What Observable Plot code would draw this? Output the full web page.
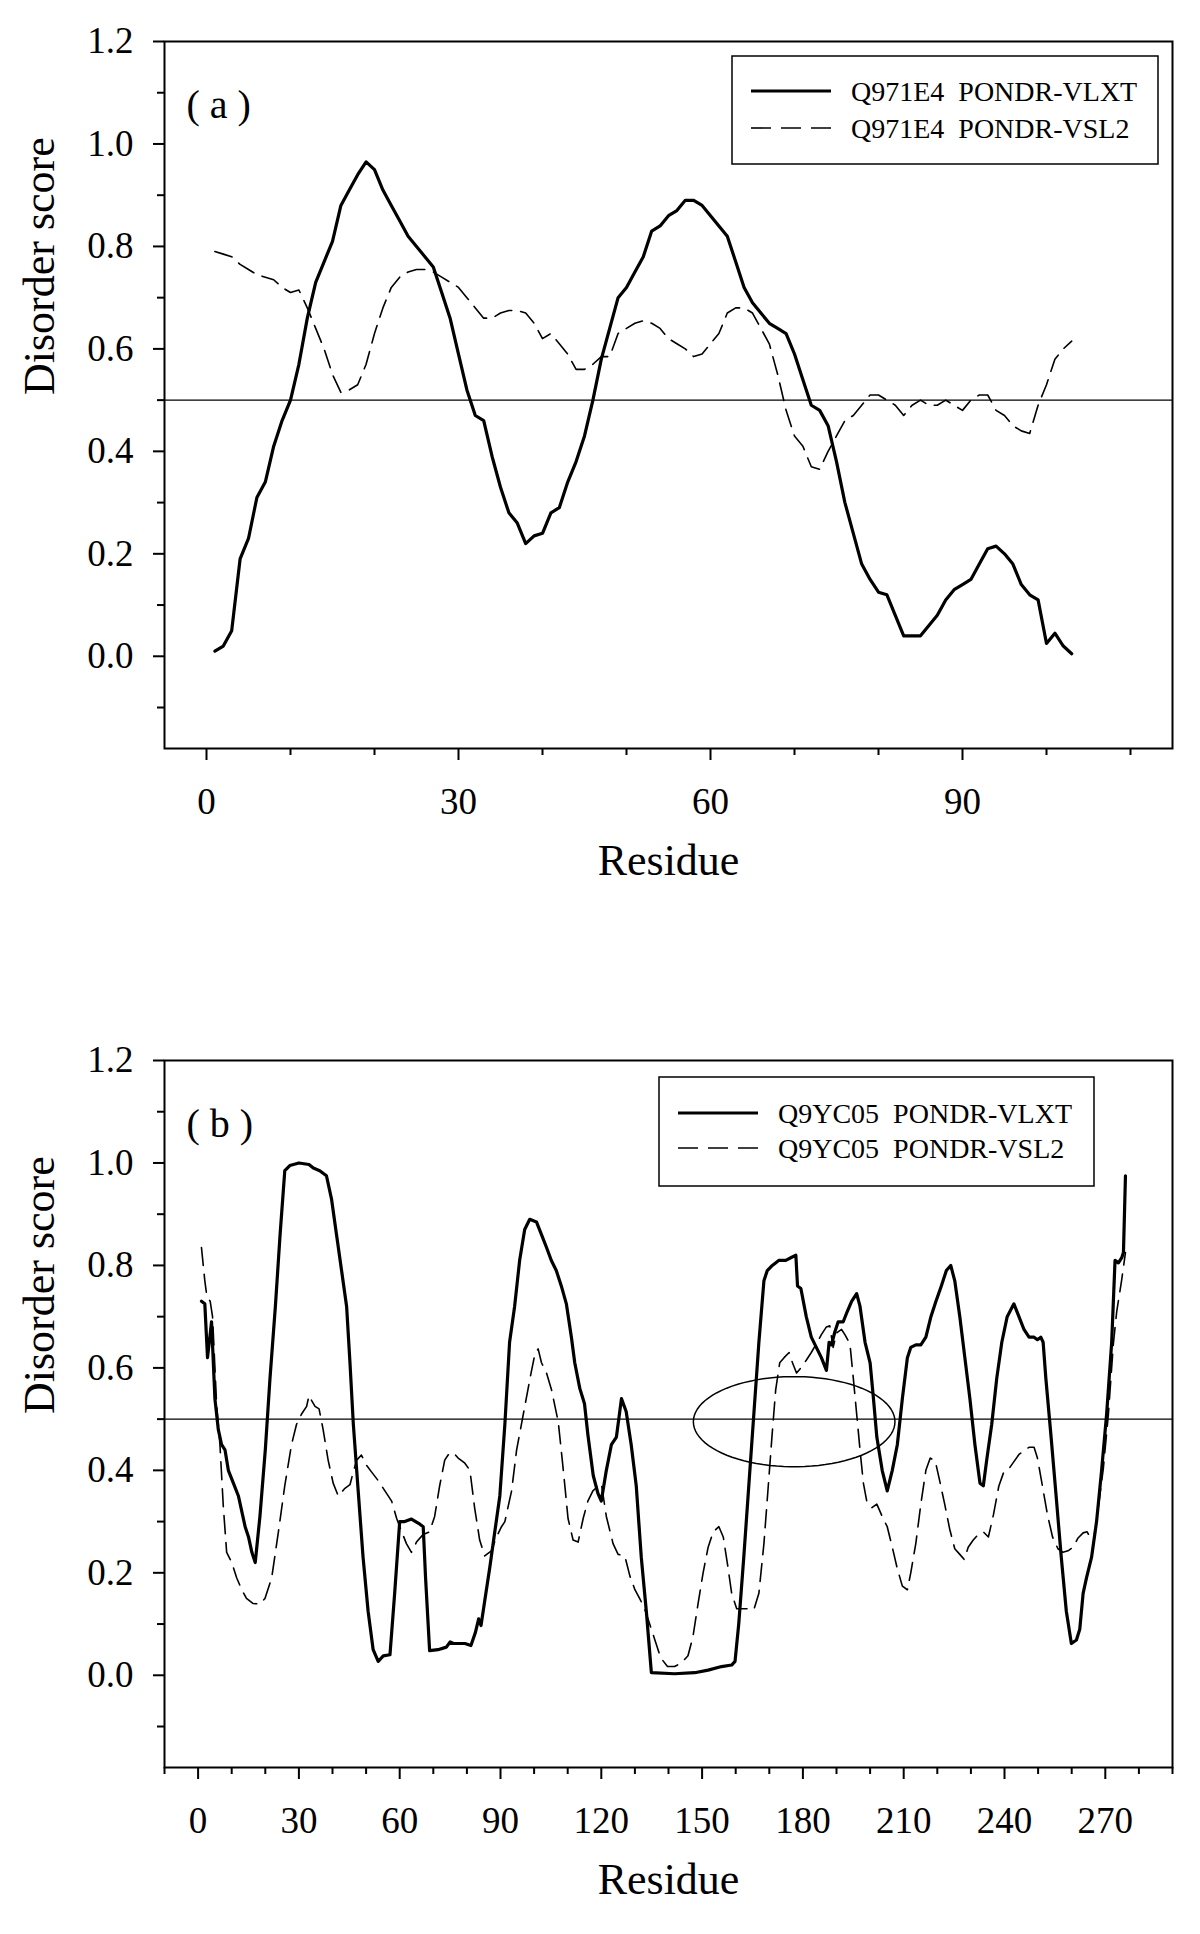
<!DOCTYPE html>
<html>
<head>
<meta charset="utf-8">
<script src="https://cdn.jsdelivr.net/npm/d3@7"></script>
<script src="https://cdn.jsdelivr.net/npm/@observablehq/plot@0.6"></script>
<style>
html, body { margin: 0; padding: 0; background: #fff; }
#chart svg { display: block; }
</style>
</head>
<body>
<div id="chart"></div>
<script>
const FONT = '"Liberation Serif", "Times New Roman", Times, serif';

// ---------- Panel (a): Q971E4 ----------
const aResidue = d3.range(1, 104);
const aVLXT = [0.01,0.02,0.05,0.19,0.23,0.31,0.34,0.41,0.46,0.50,
  0.57,0.66,0.73,0.77,0.81,0.88,0.91,0.94,0.965,0.95,
  0.91,0.88,0.85,0.82,0.80,0.78,0.76,0.71,0.66,0.59,
  0.52,0.47,0.46,0.39,0.33,0.28,0.26,0.22,0.235,0.24,
  0.28,0.29,0.34,0.38,0.43,0.50,0.58,0.64,0.70,0.72,
  0.75,0.78,0.83,0.84,0.86,0.87,0.89,0.89,0.88,0.86,
  0.84,0.82,0.77,0.72,0.69,0.67,0.65,0.64,0.63,0.59,
  0.54,0.49,0.48,0.45,0.38,0.30,0.24,0.18,0.15,0.125,
  0.12,0.08,0.04,0.04,0.04,0.06,0.08,0.11,0.13,0.14,
  0.15,0.18,0.21,0.215,0.20,0.18,0.14,0.12,0.11,0.025,
  0.045,0.02,0.005];
const aVSL2 = [0.79,0.785,0.78,0.765,0.755,0.745,0.74,0.735,0.72,0.71,
  0.715,0.68,0.64,0.60,0.55,0.515,0.52,0.53,0.57,0.63,
  0.68,0.72,0.74,0.75,0.755,0.755,0.75,0.74,0.73,0.72,
  0.70,0.68,0.66,0.66,0.67,0.675,0.675,0.67,0.65,0.62,
  0.63,0.61,0.59,0.56,0.56,0.57,0.585,0.585,0.63,0.64,
  0.65,0.655,0.65,0.64,0.62,0.61,0.60,0.585,0.59,0.61,
  0.63,0.67,0.68,0.68,0.67,0.64,0.61,0.55,0.48,0.43,
  0.41,0.37,0.365,0.40,0.43,0.46,0.47,0.49,0.51,0.51,
  0.50,0.49,0.47,0.49,0.50,0.49,0.49,0.50,0.49,0.48,
  0.50,0.51,0.51,0.48,0.47,0.45,0.44,0.435,0.49,0.53,
  0.58,0.60,0.615];

// ---------- Panel (b): Q9YC05 ----------
const bVLXT = [[1,0.73],[2,0.725],[2.8,0.62],[3.5,0.66],[4,0.69],[5,0.54],[6,0.48],[7,0.45],[8,0.44],[9,0.40],
  [10.5,0.375],[12,0.35],[13,0.32],[14,0.29],[15,0.27],[16,0.24],[17,0.22],[18.4,0.31],[20,0.44],[21.4,0.58],
  [23,0.72],[24.4,0.86],[25.8,0.985],[27.3,0.995],[30,1.0],[33,0.997],[34.3,0.99],[36.2,0.985],[38.2,0.975],[39.7,0.93],
  [41.2,0.86],[42.7,0.79],[44.2,0.72],[45.2,0.61],[46.2,0.49],[47.7,0.355],[49.1,0.23],[50.6,0.125],[52.1,0.05],[53.6,0.027],
  [55.1,0.038],[57.1,0.04],[58.5,0.16],[60,0.30],[61.5,0.30],[63.5,0.305],[66,0.295],[67,0.29],[67.7,0.19],[68.9,0.048],
  [71.4,0.05],[73.9,0.055],[75,0.065],[76,0.062],[79.4,0.062],[81.2,0.058],[82.5,0.083],[83.5,0.11],[84.2,0.097],[85.3,0.145],
  [86.8,0.21],[88.3,0.28],[89.8,0.35],[91.3,0.49],[92.7,0.65],[94.2,0.72],[95.7,0.81],[97.2,0.87],[98.7,0.89],[100.7,0.885],
  [102.2,0.86],[103.7,0.835],[105.1,0.81],[106.6,0.79],[108.1,0.76],[109.6,0.725],[111.1,0.66],[112.1,0.61],[113.6,0.56],[115,0.53],
  [116,0.47],[117.6,0.39],[119,0.355],[120,0.34],[121.5,0.40],[123,0.45],[124.5,0.465],[126,0.54],[127.4,0.515],[128.9,0.45],
  [130.4,0.37],[131.9,0.23],[133.4,0.125],[134.9,0.005],[141.8,0.003],[147.8,0.005],[151.8,0.01],[155.8,0.017],[158.8,0.02],[159.8,0.027],
  [160.9,0.10],[162.4,0.23],[163.9,0.37],[165.4,0.51],[166.9,0.65],[168.4,0.77],[169.4,0.79],[170.9,0.80],[172.9,0.81],[174.9,0.81],
  [176.4,0.815],[177.9,0.82],[178.4,0.76],[179.4,0.755],[181,0.70],[182.5,0.66],[184,0.64],[185.5,0.62],[187,0.595],[187.8,0.65],
  [188.5,0.645],[189.5,0.67],[190.5,0.69],[192,0.69],[193.2,0.71],[194.5,0.73],[196,0.745],[197,0.72],[198.5,0.65],[200,0.61],
  [201,0.54],[202,0.465],[203.6,0.40],[205.1,0.36],[206.6,0.40],[208.1,0.45],[209.6,0.54],[211.1,0.62],[212.1,0.64],[213.6,0.645],
  [215.1,0.645],[216.6,0.66],[218.1,0.70],[219.6,0.73],[221.2,0.76],[222.7,0.79],[224,0.80],[225.2,0.77],[226.7,0.70],[228.2,0.62],
  [229.7,0.54],[231.2,0.45],[232.7,0.375],[233.7,0.37],[234.7,0.42],[236.2,0.49],[237.7,0.58],[239.2,0.65],[240.8,0.70],[242.8,0.725],
  [244.3,0.70],[245.8,0.675],[247.3,0.66],[248.8,0.66],[249.8,0.655],[250.8,0.66],[251.5,0.65],[252.3,0.58],[253.8,0.47],[255.3,0.355],
  [256.9,0.23],[258.4,0.125],[259.9,0.062],[261.4,0.069],[262.4,0.09],[263.4,0.16],[264.4,0.19],[265.9,0.23],[267.4,0.30],[268.9,0.40],
  [270.4,0.51],[271.9,0.65],[272.9,0.81],[273.9,0.805],[274.9,0.815],[275.4,0.825],[276,0.975]];
const bVSL2 = [[1,0.835],[2,0.77],[2.6,0.74],[3.6,0.73],[4.3,0.70],[5.5,0.53],[6.5,0.45],[7.5,0.33],[8.5,0.24],[10,0.22],
  [11.5,0.19],[13,0.167],[14.4,0.15],[16.4,0.14],[18.4,0.139],[19.9,0.15],[21.9,0.19],[23.9,0.28],[25.8,0.37],[27.8,0.45],
  [29.3,0.49],[30.8,0.51],[32.3,0.525],[33,0.546],[33.8,0.536],[34.8,0.525],[36,0.52],[37.2,0.48],[38.7,0.42],[40.2,0.375],
  [41.7,0.35],[43.7,0.365],[45.2,0.372],[46.2,0.397],[47.2,0.42],[48.6,0.43],[50.1,0.41],[51.6,0.397],[53.6,0.38],[55.6,0.36],
  [57.6,0.34],[59.1,0.306],[60.6,0.28],[62,0.257],[63.5,0.24],[65,0.26],[67,0.275],[68.9,0.28],[70.4,0.31],[71.9,0.37],
  [73.4,0.42],[74.4,0.43],[75.9,0.435],[77.4,0.424],[79.4,0.414],[80.9,0.40],[82.3,0.327],[83.8,0.264],[85.3,0.233],[87.3,0.243],
  [88.8,0.27],[90.3,0.29],[91.3,0.30],[93.3,0.36],[94.8,0.44],[96.8,0.51],[98.8,0.58],[100.2,0.626],[101.2,0.637],[102.2,0.61],
  [103.7,0.59],[105.2,0.557],[107.2,0.494],[108.7,0.40],[110.1,0.306],[111.6,0.264],[113.1,0.26],[114.6,0.306],[116,0.34],[117.5,0.36],
  [119,0.369],[120,0.375],[121.5,0.31],[123.5,0.257],[125,0.236],[127,0.233],[128.5,0.194],[130,0.167],[131.4,0.15],[132.9,0.13],
  [134.4,0.10],[135.9,0.07],[137.7,0.034],[139.7,0.017],[141.8,0.017],[143.8,0.024],[145.8,0.038],[147.3,0.076],[148.8,0.14],[150.3,0.20],
  [151.8,0.25],[153.3,0.28],[155,0.29],[156.3,0.27],[157.6,0.215],[158.8,0.16],[160.3,0.13],[161.9,0.13],[163.9,0.13],[165.4,0.128],
  [166.9,0.16],[168.4,0.257],[169.7,0.37],[170.9,0.475],[171.9,0.557],[173.1,0.61],[174.4,0.62],[175.9,0.63],[176.9,0.61],[178.1,0.59],
  [179.4,0.60],[181,0.615],[182.5,0.63],[184,0.647],[185.5,0.665],[187,0.68],[188,0.682],[189,0.64],[190,0.668],[191.5,0.675],
  [192.5,0.665],[194,0.647],[195,0.58],[196,0.51],[197,0.44],[198,0.375],[199,0.34],[200.5,0.327],[202,0.334],[203.6,0.31],
  [205.1,0.29],[206.6,0.25],[208.1,0.208],[209.6,0.174],[211.1,0.167],[212.1,0.20],[213.6,0.257],[215.1,0.334],[216.6,0.40],[217.9,0.424],
  [219.4,0.418],[220.7,0.38],[222.2,0.334],[223.7,0.285],[225.2,0.247],[226.7,0.236],[228,0.226],[229.2,0.25],[230.7,0.264],[232.2,0.275],
  [233.7,0.28],[235.2,0.27],[236.7,0.313],[238.3,0.369],[239.8,0.397],[241.3,0.403],[242.8,0.417],[244.3,0.431],[245.8,0.438],[247.3,0.445],
  [248.8,0.445],[249.8,0.424],[251.3,0.369],[252.8,0.313],[254.3,0.27],[255.9,0.247],[257.4,0.24],[258.9,0.243],[260.4,0.25],[261.9,0.268],
  [263.4,0.278],[264.6,0.28],[265.4,0.27],[266.9,0.278],[267.9,0.327],[269.4,0.403],[270.9,0.508],[272.4,0.647],[273.4,0.71],[274.9,0.773],
  [276,0.825]];

// ---------- Axes / labels ----------
const yMajorTicks = [0, 0.2, 0.4, 0.6, 0.8, 1.0, 1.2];
const yMinorTicks = [-0.1, 0.1, 0.3, 0.5, 0.7, 0.9, 1.1];
const aXMajorTicks = [0, 30, 60, 90];
const aXMinorTicks = [10, 20, 40, 50, 70, 80, 100, 110];
const bXMajorTicks = [0, 30, 60, 90, 120, 150, 180, 210, 240, 270];
const bXMinorTicks = [-10, 10, 20, 40, 50, 70, 80, 100, 110, 130, 140, 160, 170, 190, 200, 220, 230, 250, 260, 280, 290];
const thresholdValue = [0.5];
const xTitle = "Residue";
const yTitle = "Disorder score";
const aLabel = "( a )";
const bLabel = "( b )";
const aLegend = ["Q971E4  PONDR-VLXT", "Q971E4  PONDR-VSL2"];
const bLegend = ["Q9YC05  PONDR-VLXT", "Q9YC05  PONDR-VSL2"];
// highlighted region (ellipse) in panel b: center residue, center score, half-widths
const bEllipse = {cx: 177.4, cy: 0.495, rx: 30, ry: 0.088};

const SOLID_W = 3.2, DASH_W = 1.6, DASH = "18,9";

function makePanel(cfg) {
  const marks = [
    Plot.ruleY(thresholdValue, {stroke: "black", strokeWidth: 1.4}),
    Plot.line(cfg.vsl2, {x: "x", y: "y", stroke: "black", strokeWidth: DASH_W, strokeDasharray: DASH}),
    Plot.line(cfg.vlxt, {x: "x", y: "y", stroke: "black", strokeWidth: SOLID_W, strokeLinejoin: "round"}),
    Plot.frame({stroke: "black", strokeWidth: 2}),
    Plot.axisX(cfg.xMinor, {tickSize: 7, tickFormat: () => "", strokeWidth: 2, label: null}),
    Plot.axisX(cfg.xMajor, {tickSize: 12, tickPadding: 27, strokeWidth: 2, fontSize: 37, label: null}),
    Plot.axisY(yMinorTicks, {tickSize: 7, tickFormat: () => "", strokeWidth: 2, label: null}),
    Plot.axisY(yMajorTicks, {tickSize: 11, tickPadding: 20, tickFormat: d3.format(".1f"), strokeWidth: 2, fontSize: 37, label: null}),
    Plot.text([cfg.label], {text: d => d, frameAnchor: "top-left", textAnchor: "start", dx: 22, dy: 48, fontSize: 40}),
    Plot.text([xTitle], {text: d => d, frameAnchor: "bottom", dy: 126, fontSize: 44}),
    Plot.text([yTitle], {text: d => d, frameAnchor: "left", rotate: -90, dx: -125, fontSize: 44})
  ];
  if (cfg.ellipse) {
    const e = cfg.ellipse;
    const pts = d3.range(0, 361, 4).map(a => ({
      x: e.cx + e.rx * Math.cos(a * Math.PI / 180),
      y: e.cy + e.ry * Math.sin(a * Math.PI / 180)
    }));
    marks.push(Plot.line(pts, {x: "x", y: "y", stroke: "black", strokeWidth: 1.5}));
  }
  const svg = Plot.plot({
    width: 1200,
    height: cfg.height,
    marginLeft: 164,
    marginRight: 28,
    marginTop: 41,
    marginBottom: cfg.height - 748,
    x: {domain: cfg.xDomain, label: null},
    y: {domain: [-0.18, 1.2], label: null},
    style: {fontFamily: FONT, fontSize: "37px", color: "black", background: "white", overflow: "visible"},
    marks
  });
  // legend box
  const g = d3.select(svg).append("g")
    .attr("font-family", FONT).attr("font-size", 28).attr("fill", "black")
    .attr("text-anchor", "start");
  const b = cfg.legendBox;
  g.append("rect").attr("x", b.left).attr("y", b.top).attr("width", b.width).attr("height", b.height)
    .attr("fill", "white").attr("stroke", "black").attr("stroke-width", 1.5);
  const styles = [{w: SOLID_W, dash: null}, {w: DASH_W, dash: "20,10"}];
  cfg.legend.forEach((name, i) => {
    const y = b.top + b.rows[i];
    g.append("line").attr("x1", b.left + 19).attr("x2", b.left + 99).attr("y1", y).attr("y2", y)
      .attr("stroke", "black").attr("stroke-width", styles[i].w)
      .attr("stroke-dasharray", styles[i].dash);
    g.append("text").attr("x", b.left + 119).attr("y", y + 10)
      .attr("text-anchor", "start")
      .attr("style", "white-space: pre").text(name);
  });
  return svg;
}

const toXY = pairs => pairs.map(([x, y]) => ({x, y}));

const chart = document.getElementById("chart");
chart.appendChild(makePanel({
  height: 1019,
  xDomain: [-5, 115],
  xMajor: aXMajorTicks,
  xMinor: aXMinorTicks,
  vlxt: aResidue.map((r, i) => ({x: r, y: aVLXT[i]})),
  vsl2: aResidue.map((r, i) => ({x: r, y: aVSL2[i]})),
  label: aLabel,
  legend: aLegend,
  legendBox: {left: 732, top: 56, width: 426, height: 108, rows: [35, 72]}
}));
chart.appendChild(makePanel({
  height: 915,
  xDomain: [-10, 290],
  xMajor: bXMajorTicks,
  xMinor: bXMinorTicks,
  vlxt: toXY(bVLXT),
  vsl2: toXY(bVSL2),
  label: bLabel,
  legend: bLegend,
  legendBox: {left: 659, top: 58, width: 435, height: 109, rows: [36, 71]},
  ellipse: bEllipse
}));
</script>
</body>
</html>
